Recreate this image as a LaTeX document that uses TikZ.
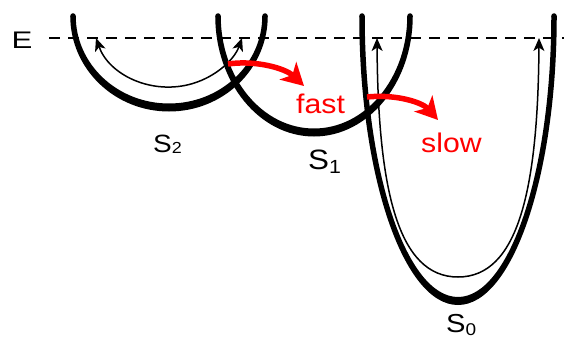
\documentclass[tikz,border=0pt]{standalone}
\usepackage{fontspec}
\setmainfont{Liberation Sans}
\newfontfamily\labfont[FakeStretch=1.12]{Liberation Sans}
\newfontfamily\efont[FakeStretch=1.3]{Liberation Sans}
\usetikzlibrary{arrows.meta,calc}
\newcommand\wellband[3]{% #1 centre x, #2 x radius, #3 y radius; tops at y=322
  \fill (#1-#2-2.75,322) arc[start angle=180,end angle=360,x radius=#2+2.75,y radius=#3+4]
     -- (#1+#2-2.75,322) arc[start angle=0,end angle=-180,x radius=#2-2.75,y radius=#3-4] -- cycle;
  \fill (#1-#2,322) circle[radius=2.75];
  \fill (#1+#2,322) circle[radius=2.75];}
\newcommand\subidx[3]{\raisebox{-#2pt}{\fontsize{#1}{#1}\selectfont #3}}
\begin{document}
\begin{tikzpicture}[x=1pt,y=1pt,
  thinarrow/.style={line width=1.5pt,
    {Stealth[length=13pt,width=11pt,inset=3.5pt]}-{Stealth[length=13pt,width=11pt,inset=3.5pt]}},
  redarrow/.style={red, line width=5.5pt, -{Stealth[length=22pt,width=24pt,inset=6pt]}},
  lbl/.style={inner sep=0pt, font=\labfont\fontsize{26}{26}\selectfont},
  redlbl/.style={inner sep=0pt, text=red, font=\labfont\fontsize{27}{27}\selectfont}]
\useasboundingbox (0,0) rectangle (564,338);
% energy level
\draw[line width=1.3pt, dash pattern=on 11pt off 8pt] (49,300) -- (564,300);
\node[inner sep=0pt, font=\efont\fontsize{24}{24}\selectfont] (E) at (22,297.5) {E};
% potential wells
\wellband{169}{96}{91.5}
\wellband{314}{96}{116.5}
\wellband{458}{96}{285}
% thin double arrows
\draw[thinarrow] ($(169,322)+(198.05:76.8 and 71)$) arc[start angle=198.05,end angle=341.95,x radius=76.8,y radius=71];
\coordinate (t0l) at (377,300); \coordinate (t0b) at (458,61); \coordinate (t0r) at (539,300);
\draw[thinarrow] (t0l) .. controls (378,148) and (398,61) .. (t0b)
                       .. controls (518,61) and (538,148) .. (t0r);
% labels
\node[inner sep=0pt, font=\labfont\fontsize{25}{25}\selectfont, anchor=base west] (s2) at (153,186) {S\subidx{16}{1}{2}};
\node[inner sep=0pt, font=\labfont\fontsize{28}{28}\selectfont, anchor=base west] (s1) at (308,169) {S\subidx{19}{4}{1}};
\node[lbl, anchor=base west] (s0) at (446,6) {S\subidx{17}{3}{0}};
\node[redlbl, anchor=base west] (fast) at (296,225) {fast};
\node[redlbl, anchor=base west] (slow) at (421,186) {slow};
% red transfer arrows
\coordinate (f1) at (228,274); \coordinate (f2) at (304,252);
\coordinate (w1) at (367,241); \coordinate (w2) at (438,218);
\draw[redarrow] (f1) .. controls (255,278) and (285,270) .. (f2);
\draw[redarrow] (w1) .. controls (395,244) and (422,236) .. (w2);
\end{tikzpicture}
\end{document}
